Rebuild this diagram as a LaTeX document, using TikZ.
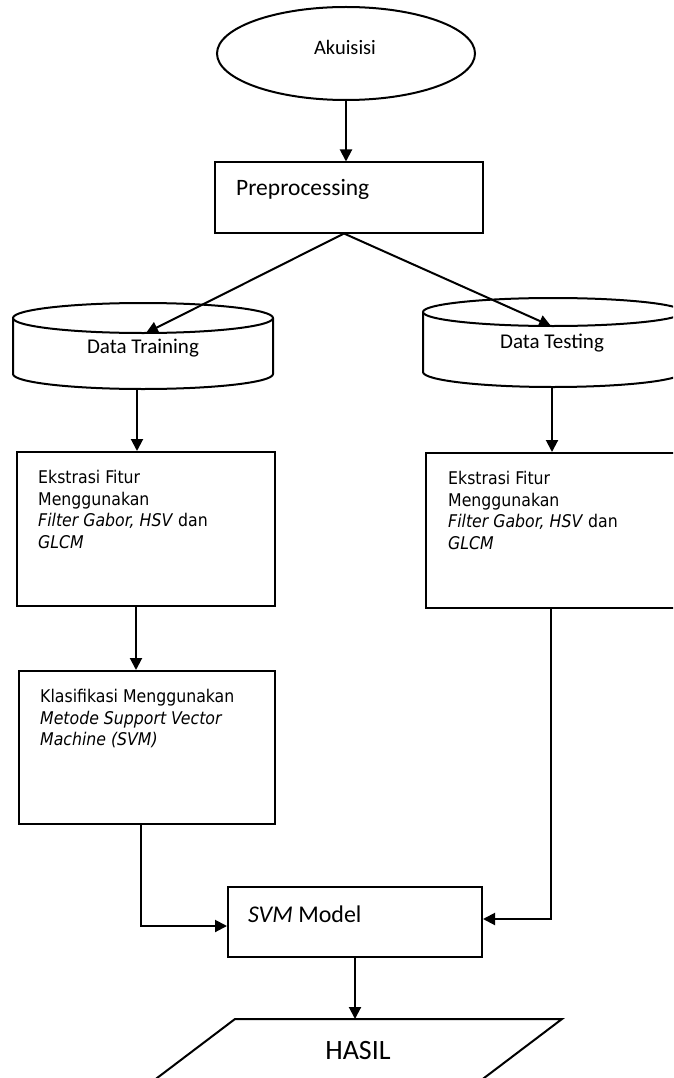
\documentclass[tikz,border=0pt]{standalone}
\usepackage{fontspec}
\setmainfont{Carlito}
\newfontfamily\tah{DejaVu Sans Condensed}
\usetikzlibrary{arrows.meta,shapes.geometric}
\tikzset{
  ln/.style={line width=2pt, draw=black},
  arr/.style={ln, -{Triangle[length=12pt,width=12pt]}},
  boxn/.style={ln, rectangle, inner sep=0pt},
  btext/.style={anchor=north west, inner sep=0pt, align=left, font=\tah\fontsize{17.5}{21.5}\selectfont, text=black},
  ctext/.style={inner sep=0pt, text=black},
}
\begin{document}
\begin{tikzpicture}[x=1pt,y=-1pt]
\path[use as bounding box] (0,0) rectangle (673,1078);
\clip (0,0) rectangle (673,1078);
\fill[white] (0,0) rectangle (673,1078);

% Akuisisi
\node[ln, ellipse, minimum width=258pt, minimum height=93pt, inner sep=0pt] (ak) at (346,53.5) {};
\node[ctext, font=\fontsize{20.5}{24}\selectfont] (akt) at (345,47) {Akuisisi};

% Preprocessing
\node[boxn, minimum width=268pt, minimum height=70pt] (pre) at (349,197.5) {};
\node[ctext, anchor=base west, font=\fontsize{23.5}{28}\selectfont] (pret) at (236,196) {Preprocessing};

% Data Training cylinder
\draw[ln] (13,318) -- (13,374) arc[start angle=180, end angle=0, x radius=130, y radius=15] -- (273,318);
\draw[ln, fill=white] (143,318) ellipse [x radius=130, y radius=15];
\node[ctext, font=\fontsize{21}{25}\selectfont] (dtr) at (143,348) {Data Training};
\coordinate (dtrIn) at (146,333);
\coordinate (dtrB) at (137,389);

% Data Testing cylinder
\draw[ln] (423,312) -- (423,372) arc[start angle=180, end angle=0, x radius=130, y radius=15] -- (683,312);
\draw[ln, fill=white] (553,312) ellipse [x radius=130, y radius=14];
\node[ctext, font=\fontsize{21}{25}\selectfont] (dte) at (552,343) {Data Testing};
\coordinate (dteIn) at (551,326);
\coordinate (dteB) at (552,387);

% Ekstrasi boxes
\node[boxn, minimum width=258pt, minimum height=154pt] (ek1) at (146,529) {};
\node[btext] (ek1t) at (38,470) {Ekstrasi Fitur\\Menggunakan\\\textit{Filter Gabor, HSV} dan\\\textit{GLCM}};
\node[boxn, minimum width=260pt, minimum height=155pt] (ek2) at (556,530.5) {};
\node[btext] (ek2t) at (448,471) {Ekstrasi Fitur\\Menggunakan\\\textit{Filter Gabor, HSV} dan\\\textit{GLCM}};

% Klasifikasi
\node[boxn, minimum width=256pt, minimum height=153pt] (kl) at (147,747.5) {};
\node[btext] (klt) at (40,689) {Klasifikasi Menggunakan\\\textit{Metode Support Vector}\\\textit{Machine (SVM)}};

% SVM Model
\node[boxn, minimum width=254pt, minimum height=70pt] (svm) at (355,922) {};
\node[ctext, anchor=west, font=\fontsize{24}{28}\selectfont] (svmt) at (248,914) {\textit{SVM} Model};

% HASIL parallelogram
\coordinate (hTL) at (235,1019);
\coordinate (hTR) at (562,1019);
\coordinate (hBL) at (128,1100);
\coordinate (hBR) at (455,1100);
\coordinate (hTop) at (357,1019);
\draw[ln, line join=miter] (hBL) -- (hTL) -- (hTR) -- (hBR);
\node[ctext, font=\fontsize{28}{32}\selectfont] (hasil) at (358,1050) {HASIL};

% connectors
\draw[arr] (ak.south) -- (ak.south |- pre.north);
\draw[arr] ([xshift=-5pt]pre.south) -- (dtrIn);
\draw[arr] ([xshift=-5pt]pre.south) -- (dteIn);
\draw[arr] (dtrB) -- (dtrB |- ek1.north);
\draw[arr] (dteB) -- (dteB |- ek2.north);
\draw[arr] ([xshift=-10pt]ek1.south) -- ([xshift=-10pt]ek1.south |- kl.north);
\draw[arr] ([xshift=-5pt]ek2.south) |- ([yshift=3pt]svm.east);
\draw[arr] ([xshift=-6pt]kl.south) |- ([yshift=-4pt]svm.west);
\draw[arr] (svm.south) -- (svm.south |- hTop);
\end{tikzpicture}
\end{document}
